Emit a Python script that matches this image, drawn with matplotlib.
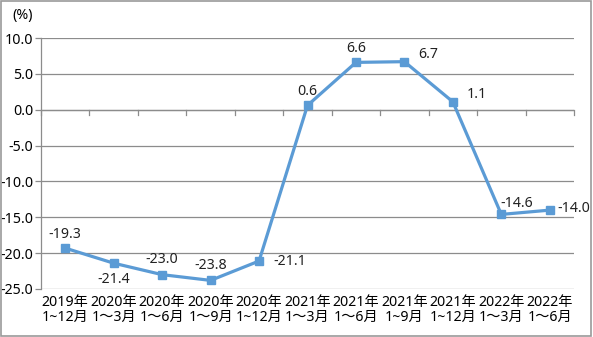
import matplotlib
matplotlib.use("Agg")
import matplotlib.pyplot as plt
from matplotlib.patches import Rectangle

plt.rcParams['font.family'] = ['Noto Sans', 'Noto Sans CJK SC', 'DejaVu Sans']

periods = ["2019年\n1~12月", "2020年\n1～3月", "2020年\n1～6月", "2020年\n1～9月", "2020年\n1~12月",
           "2021年\n1～3月", "2021年\n1～6月", "2021年\n1~9月", "2021年\n1~12月", "2022年\n1～3月",
           "2022年\n1～6月"]
growth = [-19.3, -21.4, -23.0, -23.8, -21.1, 0.6, 6.6, 6.7, 1.1, -14.6, -14.0]
# label offsets in points (dx, dy) per point
offsets = [(0, 10), (0, -12), (0, 11), (0, 11), (22, 0), (0, 10), (0, 10), (17, 5), (17, 5), (11, 8), (17, 1)]

line_color = "#5B9BD5"
grid_color = "#8c8c8c"
fs = 10.2

fig = plt.figure(figsize=(5.93, 3.37), dpi=100)
ax = fig.add_axes([41 / 593, 48 / 337, 533 / 593, 251 / 337])

x = list(range(len(growth)))
ax.plot(x, growth, color=line_color, lw=2.3, marker="s", ms=5.5, zorder=3)

for xi, v, (dx, dy) in zip(x, growth, offsets):
    ax.annotate(f"{v:.1f}", (xi, v), xytext=(dx, dy), textcoords="offset points",
                ha="center", va="center", fontsize=fs, color="#222222")

ax.set_xlim(-0.5, len(growth) - 0.5)
ax.set_ylim(-25, 10)
yticks = [10, 5, 0, -5, -10, -15, -20, -25]
ax.set_yticks(yticks)
ax.set_yticklabels([f"{t:.1f}" for t in yticks], fontsize=fs)
ax.yaxis.grid(True, color=grid_color, lw=0.9)
ax.set_axisbelow(True)

# category labels sit below the plot, boundary ticks sit on the zero line
ax.set_xticks(x)
ax.set_xticklabels(periods, fontsize=fs, linespacing=1.05)
ax.tick_params(axis="x", length=0, pad=4)
ax.tick_params(axis="y", length=4, color=grid_color, width=0.9, pad=1.5)
for b in range(len(growth) + 1):
    ax.plot([b - 0.5, b - 0.5], [0, -0.7], color=grid_color, lw=0.9, clip_on=False, zorder=2)
ax.axhline(0, color=grid_color, lw=0.9, zorder=2)

for side in ["top", "right", "bottom"]:
    ax.spines[side].set_visible(False)
ax.spines["left"].set_color(grid_color)
ax.spines["left"].set_linewidth(0.9)

fig.text(12 / 593, 1 - 15 / 337, "(%)", fontsize=fs, va="center", ha="left")
fig.patches.append(Rectangle((0.002, 0.003), 0.995, 0.994, transform=fig.transFigure,
                             fill=False, edgecolor="#9a9a9a", lw=1.2))

fig.savefig("out.png", dpi=100)
